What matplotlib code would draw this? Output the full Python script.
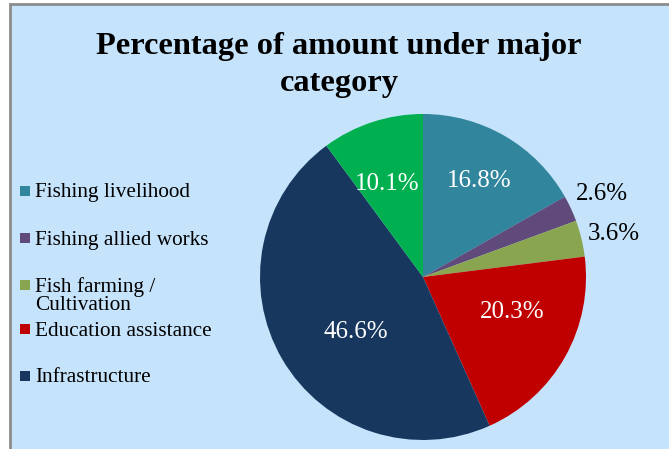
import numpy as np
import matplotlib
matplotlib.use("Agg")
from matplotlib import pyplot as plt
from matplotlib.patches import Rectangle

categories = ['Fishing livelihood', 'Fishing allied works', 'Fish farming /\nCultivation',
              'Education assistance', 'Infrastructure', 'Other']
shares = [16.8, 2.6, 3.6, 20.3, 46.6, 10.1]  # percent
colors = ['#31859C', '#604A7B', '#8AA54F', '#C00000', '#17375E', '#00B050']
label_dist = [0.68, 1.21, 1.20, 0.59, 0.53, 0.61]  # how far from centre each label sits
label_turn = [0, 0, -1, 8, 9, 3]  # small angle nudges (deg) for label placement
label_color = ['white', 'black', 'black', 'white', 'white', 'white']
legend_rows = [191, 238, 285, 329, 376]  # pixel rows of legend entries (from top)

W, H = 669, 449
bg = '#C6E3FC'
fig = plt.figure(figsize=(W / 100, H / 100), dpi=100)
fig.patch.set_facecolor('white')
# chart area with grey border on top and left
fig.patches.append(Rectangle((9.5 / W, -0.1), 1.0, 1.1 - 4.5 / H, transform=fig.transFigure,
                             facecolor=bg, edgecolor='#8C8C8C', linewidth=2, zorder=-5))

fig.text(339 / W, 1 - 65 / H, 'Percentage of amount under major\ncategory', ha='center', va='center',
         family='Liberation Serif', weight='bold', fontsize=23.3, linespacing=1.38)

cx, cy, r = 423, 277, 163
ax = fig.add_axes([(cx - r) / W, (H - cy - r) / H, 2 * r / W, 2 * r / H])
ax.patch.set_visible(False)
wedges, _ = ax.pie(shares, colors=colors, startangle=90, counterclock=False, radius=1,
                   wedgeprops=dict(linewidth=0))
ax.set_xlim(-1, 1)
ax.set_ylim(-1, 1)
ax.axis('off')

for w, s, d, t, c in zip(wedges, shares, label_dist, label_turn, label_color):
    ang = np.deg2rad((w.theta1 + w.theta2) / 2 + t)
    ax.text(d * np.cos(ang), d * np.sin(ang), f'{s:.1f}%', ha='center', va='center',
            family='Liberation Serif', fontsize=18, color=c)

# legend (the last slice has no entry in the original)
for name, col, row in zip(categories[:5], colors[:5], legend_rows):
    fig.patches.append(Rectangle((20 / W, 1 - (row + 5) / H), 10 / W, 10 / H,
                                 transform=fig.transFigure, facecolor=col, edgecolor='none'))
    for i, line in enumerate(name.split('\n')):
        fig.text(35 / W, 1 - (row + 2 + 18 * i) / H, line, ha='left', va='center',
                 family='Liberation Serif', fontsize=15.3)

fig.savefig('out.png', dpi=100, facecolor=fig.get_facecolor())
